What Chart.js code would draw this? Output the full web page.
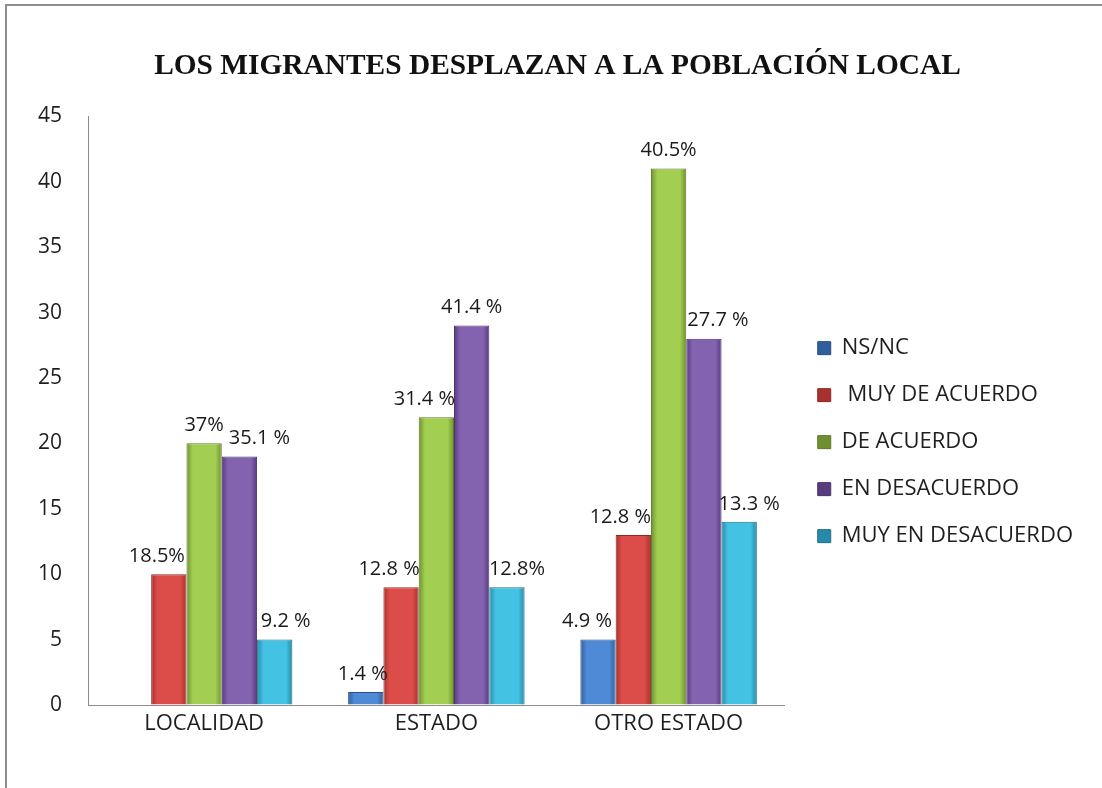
<!DOCTYPE html>
<html>
<head>
<meta charset="utf-8">
<title>Los migrantes desplazan a la población local</title>
<script src="https://cdn.jsdelivr.net/npm/chart.js@4"></script>
<style>
  body { margin: 0; background: #fff; overflow: hidden; }
  #frame { position: absolute; left: 5px; top: 4px; width: 1300px; height: 1000px; border: 2px solid #8e8e8e; }
  #chart { position: absolute; left: 0; top: 0; }
</style>
</head>
<body>
<div id="frame"></div>
<canvas id="chart" width="1102" height="788"></canvas>
<script>
// data
const categories = ["LOCALIDAD", "ESTADO", "OTRO ESTADO"];
const seriesNames = ["NS/NC", " MUY DE ACUERDO", "DE ACUERDO", "EN DESACUERDO", "MUY EN DESACUERDO"];

const nsnc = [null, 1, 5];
const muyDeAcuerdo = [10, 9, 13];
const deAcuerdo = [20, 22, 41];
const enDesacuerdo = [19, 29, 28];
const muyEnDesacuerdo = [5, 9, 14];

// percentage text shown over each bar
const nsncLabels = ["", "1.4 %", "4.9 %"];
const muyDeAcuerdoLabels = ["18.5%", "12.8 %", "12.8 %"];
const deAcuerdoLabels = ["37%", "31.4 %", "40.5%"];
const enDesacuerdoLabels = ["35.1 %", "41.4 %", "27.7 %"];
const muyEnDesacuerdoLabels = ["9.2 %", "12.8%", "13.3 %"];

const yMin = 0;
const yMax = 45;
const yStep = 5;

// colours: [edge, middle, border]
const palette = [
  ["#2f5e9c", "#4f8ad6", "#2a4f82"],
  ["#a8302d", "#dc4d49", "#8e2825"],
  ["#6f9030", "#a2cf52", "#5d7a27"],
  ["#573c80", "#8363b0", "#4a336d"],
  ["#278aa8", "#43c2e4", "#1f7189"]
];

// the labels were nudged sideways by hand in the original (px)
const labelNudge = [
  [0, -3, -11],
  [-12, -12, -13],
  [0, -12, 0],
  [20, 0, 14],
  [11, 10, 10]
];

const seriesValues = [nsnc, muyDeAcuerdo, deAcuerdo, enDesacuerdo, muyEnDesacuerdo];
const seriesLabels = [nsncLabels, muyDeAcuerdoLabels, deAcuerdoLabels, enDesacuerdoLabels, muyEnDesacuerdoLabels];

const FONT = "'Open Sans', 'DejaVu Sans', sans-serif";

function barFill(i) {
  return (ctx) => {
    const el = ctx.element;
    const [edge, mid] = palette[i];
    if (!el || !isFinite(el.x) || !el.width) return mid;
    const g = ctx.chart.ctx.createLinearGradient(el.x - el.width / 2, 0, el.x + el.width / 2, 0);
    g.addColorStop(0, edge);
    g.addColorStop(0.18, mid);
    g.addColorStop(0.82, mid);
    g.addColorStop(1, edge);
    return g;
  };
}

const datasets = seriesNames.map((name, i) => ({
  label: name,
  data: seriesValues[i],
  backgroundColor: barFill(i),
  borderColor: palette[i][2],
  borderWidth: 1,
  barPercentage: 1,
  categoryPercentage: 0.76
}));

// draws the percentage text above the bars
const barText = {
  id: "barText",
  afterDatasetsDraw(chart) {
    const c = chart.ctx;
    c.save();
    c.font = "20px " + FONT;
    c.fillStyle = "#1a1a1a";
    c.textAlign = "center";
    c.textBaseline = "middle";
    chart.data.datasets.forEach((ds, di) => {
      const meta = chart.getDatasetMeta(di);
      meta.data.forEach((bar, i) => {
        const txt = seriesLabels[di][i];
        if (!txt || ds.data[i] == null) return;
        c.fillText(txt, bar.x + labelNudge[di][i], bar.y - 18);
      });
    });
    c.restore();
  }
};

const chart = new Chart(document.getElementById("chart"), {
  type: "bar",
  data: { labels: categories, datasets },
  plugins: [barText],
  options: {
    responsive: false,
    animation: false,
    devicePixelRatio: 1,
    layout: { padding: { left: 32, right: 19, top: 0, bottom: 0 } },
    plugins: {
      title: {
        display: true,
        text: "LOS MIGRANTES DESPLAZAN A LA POBLACIÓN LOCAL",
        color: "#111",
        font: { family: "'Liberation Serif', 'Times New Roman', serif", size: 29.4, weight: "bold", lineHeight: 1.2 },
        padding: { top: 49, bottom: 32 }
      },
      legend: {
        position: "right",
        fullSize: false,
        maxWidth: 330,
        title: { display: true, text: "", padding: { top: 45, bottom: 0 }, font: { size: 10, lineHeight: 1 } },
        labels: {
          boxWidth: 13,
          boxHeight: 13,
          padding: 33,
          color: "#1e1e1e",
          font: { family: FONT, size: 22, lineHeight: 14 / 22 },
          // text as a one-line array so the row height follows the line height
          generateLabels: (ch) =>
            Chart.defaults.plugins.legend.labels.generateLabels(ch).map((l) => ({ ...l, text: [l.text] }))
        }
      },
      tooltip: { enabled: false }
    },
    scales: {
      x: {
        grid: { drawOnChartArea: false, drawTicks: false },
        border: { color: "#8c8c8c", width: 1 },
        ticks: { color: "#1e1e1e", padding: 6, font: { family: FONT, size: 22 } },
        afterFit: (s) => { s.height = 83; }
      },
      y: {
        min: yMin,
        max: yMax,
        grid: { drawOnChartArea: false, drawTicks: false },
        border: { color: "#8c8c8c", width: 1 },
        ticks: { stepSize: yStep, color: "#1e1e1e", padding: 26, font: { family: FONT, size: 21 } },
        afterFit: (s) => { s.width = 56; }
      }
    }
  }
});

// second pass so the bar gradients can use the laid-out bar positions
chart.update();
</script>
</body>
</html>
